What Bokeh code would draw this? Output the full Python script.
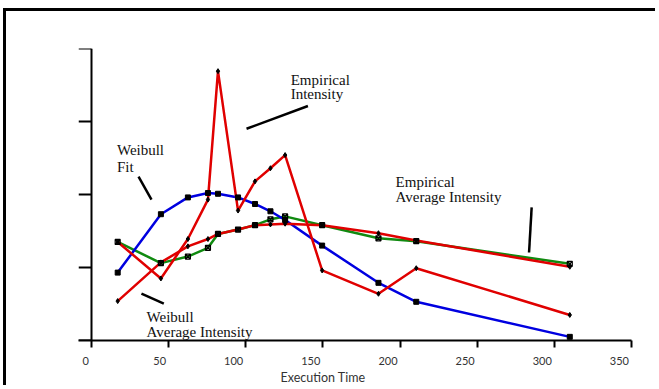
from bokeh.plotting import figure
from bokeh.models import Range1d, LinearAxis, FixedTicker, Title
from bokeh.core.properties import value
from bokeh.embed import file_html
from bokeh.resources import INLINE

# ---- data ----
exec_time = [17, 45, 62.5, 75.5, 82, 95, 106, 116, 125.5, 149.5, 186, 210.5, 310]
weibull_fit = [0.93, 1.73, 1.96, 2.02, 2.01, 1.96, 1.87, 1.77, 1.65, 1.30, 0.79, 0.53, 0.05]
empirical_intensity = [1.35, 0.85, 1.39, 1.93, 3.69, 1.78, 2.18, 2.36, 2.54, 0.96, 0.64, 0.99, 0.35]
empirical_avg = [1.35, 1.06, 1.15, 1.27, 1.46, 1.52, 1.58, 1.66, 1.70, 1.58, 1.40, 1.36, 1.05]
weibull_avg = [0.54, 1.07, 1.29, 1.39, 1.46, 1.52, 1.58, 1.59, 1.60, 1.58, 1.47, 1.37, 1.01]
x_ticks = [0, 50, 100, 150, 200, 250, 300, 350]
y_ticks = [0, 1, 2, 3, 4]

RED = "#e00000"
BLUE = "#0000e0"
GREEN = "#108a10"
X0, X1 = -8.4, 350
FRAME_W = 553

p = figure(width=652, height=377, x_range=Range1d(X0, X1), y_range=Range1d(0, 4),
           output_backend="svg", toolbar_location=None,
           x_axis_type=None, y_axis_type=None,
           min_border_left=72, min_border_right=27, min_border_top=37, min_border_bottom=48)
p.outline_line_color = None
p.background_fill_color = "white"
p.border_fill_color = "white"
# outer frame of the figure (top and left edges visible in the window)
p.styles = {"border-top": "3px solid black", "border-left": "3px solid black",
            "margin-left": "3px", "margin-top": "8px"}

# y axis at x = 0, ticks only
yax = LinearAxis(fixed_location=0, ticker=FixedTicker(ticks=y_ticks), major_tick_out=13,
                 major_tick_in=0, minor_tick_out=0, minor_tick_in=0,
                 axis_line_width=2, major_tick_line_width=2,
                 major_label_overrides={t: "" for t in y_ticks}, major_label_text_font_size="0px",
                 major_label_standoff=0)
p.add_layout(yax, "left")

# x axis: tick marks
xax = LinearAxis(ticker=FixedTicker(ticks=x_ticks), major_tick_out=7, major_tick_in=0,
                 minor_tick_out=0, minor_tick_in=0, axis_line_width=2, major_tick_line_width=2,
                 major_label_overrides={t: "" for t in x_ticks}, major_label_text_font_size="0px",
                 major_label_standoff=0)
p.add_layout(xax, "below")

# x axis: tick labels, right-aligned just left of each tick (as in the reference)
px_per_unit = FRAME_W / (X1 - X0)
label_pos = [round(t - (2.5 + 3.2 * len(str(t))) / px_per_unit, 2) for t in x_ticks]
lab_ax = LinearAxis(ticker=FixedTicker(ticks=label_pos),
                    axis_line_color=None, major_tick_line_color=None, minor_tick_line_color=None,
                    major_tick_out=0, major_tick_in=0, minor_tick_out=0, minor_tick_in=0,
                    major_label_overrides={lp: str(t) for lp, t in zip(label_pos, x_ticks)},
                    major_label_standoff=9, major_label_text_font="Lato",
                    major_label_text_font_size="11px", major_label_text_color="#333333")
p.add_layout(lab_ax, "below")

# x axis title, placed left of the frame centre as in the reference
p.add_layout(Title(text="Execution Time", align="left", offset=202, standoff=0,
                   text_font="Lato", text_font_size="12.5px", text_font_style="normal",
                   text_color="#333333"), "below")

# series
p.line(exec_time, empirical_avg, line_color=GREEN, line_width=2.5)
p.line(exec_time, weibull_fit, line_color=BLUE, line_width=2.5)
p.line(exec_time, weibull_avg, line_color=RED, line_width=2.5)
p.line(exec_time, empirical_intensity, line_color=RED, line_width=2.5)

p.scatter(exec_time, empirical_avg, marker="square_x", size=5, fill_color=None, line_color="black", line_width=1.2)
p.scatter(exec_time, weibull_fit, marker="square", size=5, fill_color="black", line_color="black")
p.scatter(exec_time, weibull_avg, marker="diamond", size=5, fill_color="black", line_color="black")
p.scatter(exec_time, empirical_intensity, marker="diamond", size=5, fill_color="black", line_color="black")

# annotations
ann_x = [129.1, 129.1, 16.5, 16.5, 35.7, 35.7, 197.1, 197.1]
ann_y = [3.571, 3.372, 2.612, 2.383, 0.322, 0.116, 2.168, 1.967]
ann_t = ["Empirical", "Intensity", "Weibull", "Fit", "Weibull", "Average Intensity",
         "Empirical", "Average Intensity"]
p.text(ann_x, ann_y, text=ann_t, text_font=value("Liberation Serif"),
       text_font_size=value("15px"), text_color="#111111",
       text_align="left", text_baseline="alphabetic")

p.segment(x0=[100.5, 30.5, 32.4, 285.3], y0=[2.901, 2.246, 0.643, 1.824],
          x1=[140.3, 38.9, 46.9, 283.6], y1=[3.212, 1.930, 0.505, 1.206],
          line_color="black", line_width=2.5)

open("out.html", "w").write(file_html(p, INLINE))
